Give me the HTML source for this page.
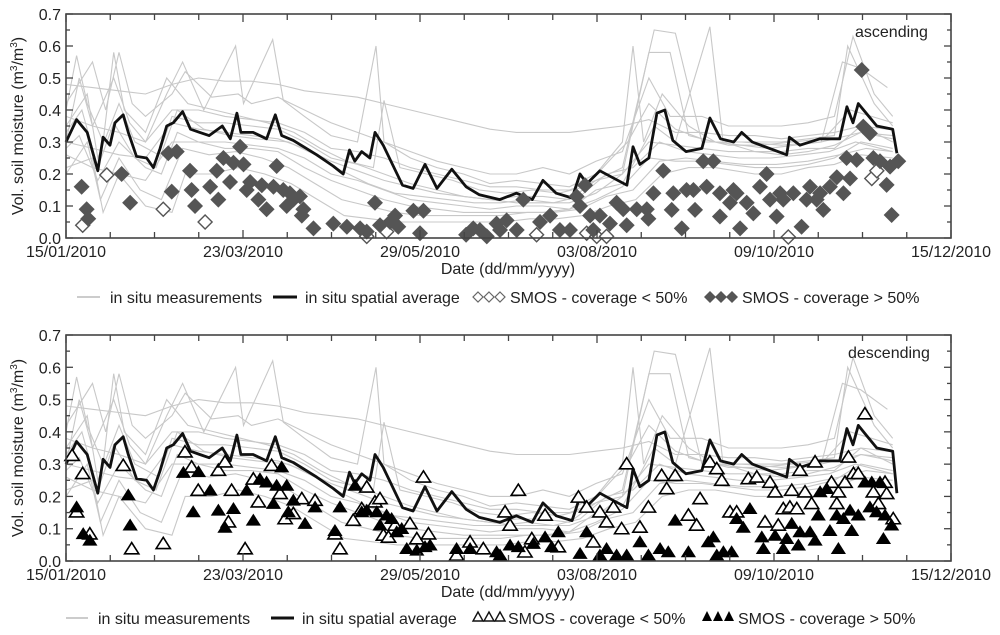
<!DOCTYPE html>
<html><head><meta charset="utf-8"><style>
body{margin:0;background:#fff;}
svg{display:block;font-family:"Liberation Sans",sans-serif;}
</style></head><body>
<svg id="chart" width="1000" height="635" viewBox="0 0 1000 635">
<g id="top"></g>
<g id="bot"></g>
<g font-size="16" fill="#222">
<line x1="77" y1="297" x2="100" y2="297" stroke="#bbb" stroke-width="1.5"/>
<text x="110" y="303">in situ measurements</text>
<line x1="273" y1="297" x2="297" y2="297" stroke="#111" stroke-width="3"/>
<text x="305" y="303">in situ spatial average</text>
<g fill="#fff" stroke="#666" stroke-width="1.2"><path d="M478 292l5 5-5 5-5-5z"/><path d="M489 292l5 5-5 5-5-5z"/><path d="M500 292l5 5-5 5-5-5z"/></g>
<text x="510" y="303">SMOS - coverage &lt; 50%</text>
<g fill="#555"><path d="M710 291l6 6-6 6-6-6z"/><path d="M721 291l6 6-6 6-6-6z"/><path d="M732 291l6 6-6 6-6-6z"/></g>
<text x="742" y="303">SMOS - coverage &gt; 50%</text>
</g>
<g font-size="16" fill="#222">
<line x1="66" y1="618" x2="88" y2="618" stroke="#bbb" stroke-width="1.5"/>
<text x="98" y="624">in situ measurements</text>
<line x1="271" y1="618" x2="294" y2="618" stroke="#111" stroke-width="3"/>
<text x="302" y="624">in situ spatial average</text>
<g fill="#fff" stroke="#111" stroke-width="1.4"><path d="M478 612l5 9h-10z"/><path d="M489 612l5 9h-10z"/><path d="M500 612l5 9h-10z"/></g>
<text x="508" y="624">SMOS - coverage &lt; 50%</text>
<g fill="#000"><path d="M707 611l5 10h-10z"/><path d="M718 611l5 10h-10z"/><path d="M729 611l5 10h-10z"/></g>
<text x="738" y="624">SMOS - coverage &gt; 50%</text>
</g>
</svg>
<script>
const xTickLabels=["15/01/2010","23/03/2010","29/05/2010","03/08/2010","09/10/2010","15/12/2010"];
const yTickLabels=["0.0","0.1","0.2","0.3","0.4","0.5","0.6","0.7"];
const avgDays=[0,4,8,12,14,16.6,18.5,21.6,23.5,26.6,30.4,33,35.5,38,40.5,44,47,50.5,54,59,62,64.5,66,70.6,75.7,79,81.4,85.8,94.6,100.8,104.6,107,109,111.6,114.7,116.6,119.7,127,131,135.5,140,145.6,151,156,163.7,170,176,180,185,191,194,196.6,201.5,206,211.7,214,216.6,220,223,226,229,234,240,243,247,252,255,259,272,273,277,284.5,292,294.7,297,299,302,306,312,313.6];
const avgAsc=[0.30,0.37,0.33,0.21,0.315,0.29,0.36,0.385,0.33,0.255,0.25,0.22,0.28,0.35,0.36,0.395,0.34,0.33,0.32,0.35,0.31,0.39,0.33,0.33,0.31,0.385,0.32,0.305,0.26,0.225,0.2,0.275,0.24,0.27,0.25,0.33,0.29,0.165,0.155,0.23,0.155,0.215,0.16,0.135,0.12,0.14,0.12,0.18,0.14,0.125,0.2,0.17,0.21,0.19,0.165,0.285,0.23,0.25,0.39,0.4,0.305,0.27,0.28,0.375,0.31,0.3,0.33,0.3,0.26,0.315,0.29,0.31,0.31,0.41,0.36,0.42,0.39,0.35,0.34,0.265];
const avgDes=[0.30,0.37,0.33,0.21,0.315,0.29,0.36,0.385,0.33,0.255,0.25,0.22,0.28,0.35,0.36,0.395,0.34,0.33,0.32,0.35,0.31,0.39,0.33,0.33,0.31,0.385,0.32,0.305,0.26,0.225,0.2,0.275,0.24,0.27,0.25,0.33,0.29,0.165,0.155,0.23,0.155,0.215,0.16,0.135,0.12,0.14,0.12,0.18,0.14,0.125,0.2,0.17,0.21,0.19,0.165,0.285,0.23,0.25,0.39,0.4,0.305,0.27,0.28,0.375,0.31,0.3,0.33,0.3,0.26,0.315,0.29,0.31,0.31,0.41,0.36,0.42,0.39,0.35,0.34,0.21];
const insitu1=[[0,.48],[10,.47],[20,.46],[30,.45],[40,.48],[50,.5],[60,.49],[70,.49],[80,.48],[90,.46],[100,.45],[110,.44],[120,.42],[130,.4],[140,.38],[150,.36],[160,.34],[170,.33],[180,.33],[190,.33],[200,.34],[210,.35],[220,.37],[230,.33],[240,.33],[250,.32],[260,.32],[270,.31],[280,.32],[290,.33],[300,.35],[310,.34]];
const insitu2=[[0,.42],[10,.55],[15,.4],[20,.58],[25,.42],[30,.38],[40,.45],[45,.52],[55,.44],[65,.45],[70,.42],[80,.44],[90,.4],[100,.36],[110,.33],[120,.3],[130,.27],[140,.24],[150,.22],[160,.2],[170,.2],[180,.22],[190,.2],[200,.24],[210,.27],[220,.5],[228,.38],[240,.38],[250,.35],[260,.35],[270,.35],[280,.36],[290,.38],[297,.63],[305,.45],[312,.38]];
const insitu3=[[0,.35],[8,.45],[12,.25],[20,.42],[26,.3],[35,.26],[40,.38],[50,.36],[60,.36],[70,.35],[80,.34],[90,.3],[100,.25],[110,.23],[120,.2],[130,.17],[140,.15],[150,.13],[160,.12],[170,.13],[180,.13],[190,.12],[200,.18],[210,.22],[222,.65],[230,.64],[240,.3],[250,.3],[260,.3],[270,.3],[280,.31],[290,.32],[295,.6],[305,.42],[312,.35]];
const insitu4=[[0,.28],[5,.32],[12,.18],[20,.3],[30,.22],[36,.2],[42,.33],[50,.3],[60,.3],[70,.29],[80,.28],[90,.25],[100,.2],[110,.18],[120,.15],[130,.12],[140,.11],[150,.1],[160,.09],[170,.1],[180,.1],[190,.09],[200,.15],[210,.17],[222,.35],[230,.3],[243,.66],[248,.3],[260,.27],[270,.27],[280,.28],[290,.28],[300,.35],[312,.3]];
const insitu5=[[0,.22],[10,.25],[14,.08],[20,.2],[30,.1],[40,.08],[45,.2],[55,.2],[65,.22],[75,.2],[85,.17],[95,.12],[105,.07],[115,.06],[125,.05],[135,.05],[145,.05],[155,.05],[165,.05],[175,.06],[185,.06],[195,.07],[205,.1],[215,.12],[225,.2],[235,.22],[245,.22],[260,.2],[270,.2],[280,.22],[290,.23],[300,.26],[312,.25]];
const insitu6=[[0,.3],[5,.5],[10,.35],[18,.5],[24,.36],[30,.3],[38,.45],[44,.55],[52,.4],[64,.6],[67,.42],[78,.62],[82,.43],[90,.38],[100,.32],[110,.3],[117,.6],[120,.3],[130,.25],[140,.22],[150,.2],[160,.17],[170,.18],[180,.17],[190,.16],[200,.2],[210,.3],[214,.6],[218,.3],[225,.45],[235,.35],[245,.3],[255,.3],[270,.29],[285,.3],[300,.33],[312,.32]];
const insitu7=[[0,.38],[10,.35],[20,.33],[30,.3],[40,.4],[50,.4],[60,.38],[70,.37],[80,.36],[90,.33],[100,.28],[110,.27],[120,.25],[130,.22],[140,.2],[150,.18],[160,.16],[170,.16],[180,.15],[190,.15],[200,.18],[210,.2],[220,.58],[228,.58],[235,.32],[245,.3],[255,.29],[265,.28],[275,.29],[285,.3],[293,.55],[300,.53],[310,.47]];
const insitu8=[[0,.26],[10,.22],[20,.2],[30,.18],[40,.3],[50,.3],[60,.28],[70,.28],[80,.27],[90,.22],[100,.18],[110,.15],[120,.12],[130,.1],[140,.09],[150,.08],[160,.08],[170,.08],[180,.08],[190,.09],[200,.12],[210,.16],[220,.25],[230,.24],[240,.24],[250,.23],[260,.22],[270,.22],[280,.23],[290,.25],[300,.3],[312,.28]];
const insitu9=[[0,.4],[4,.57],[8,.42],[14,.3],[18,.58],[22,.4],[30,.33],[38,.5],[46,.42],[56,.4],[66,.38],[76,.36],[86,.33],[96,.28],[106,.24],[116,.22],[120,.43],[126,.22],[136,.2],[146,.18],[156,.15],[166,.14],[176,.15],[186,.14],[196,.16],[206,.25],[212,.3],[220,.42],[230,.34],[240,.31],[250,.29],[262,.29],[274,.3],[286,.31],[296,.4],[304,.38],[312,.36]];
const insitu10=[[0,.33],[6,.4],[12,.22],[18,.36],[26,.25],[34,.22],[42,.4],[52,.34],[62,.32],[72,.31],[84,.3],[94,.26],[104,.21],[114,.17],[124,.14],[134,.13],[144,.12],[154,.11],[164,.11],[174,.12],[184,.11],[194,.13],[204,.2],[214,.22],[224,.3],[234,.27],[244,.26],[254,.25],[266,.25],[278,.26],[288,.27],[298,.3],[312,.27]];
const insitu11=[[0,.2],[8,.3],[13,.12],[20,.25],[28,.15],[36,.12],[44,.28],[54,.26],[64,.27],[74,.25],[84,.22],[94,.17],[104,.12],[114,.1],[124,.08],[134,.07],[144,.07],[154,.07],[164,.07],[174,.08],[184,.08],[194,.09],[204,.13],[214,.15],[224,.24],[234,.25],[244,.24],[256,.23],[268,.23],[280,.24],[292,.26],[302,.28],[312,.27]];
const insitu12=[[0,.3],[10,.28],[20,.26],[30,.25],[40,.36],[50,.34],[60,.33],[70,.32],[80,.31],[90,.28],[100,.24],[110,.21],[120,.18],[130,.16],[140,.14],[150,.13],[160,.12],[170,.11],[180,.11],[190,.11],[200,.14],[210,.2],[220,.3],[230,.29],[240,.28],[250,.27],[260,.27],[270,.26],[280,.27],[290,.29],[300,.33],[312,.31]];
const ascHigh=[[5.9,.16],[7.8,.09],[8.4,.06],[21,.2],[24.2,.11],[38.6,.265],[41.8,.27],[39.9,.145],[46.8,.21],[47.4,.15],[48.7,.1],[54.4,.16],[56.9,.21],[57.5,.12],[59.4,.25],[61.9,.175],[63.2,.235],[65.7,.285],[67,.23],[69.5,.175],[68.2,.15],[72.6,.12],[75.7,.09],[73.9,.165],[78.3,.16],[79.5,.225],[82,.15],[84.5,.14],[85.8,.12],[83.3,.1],[88.3,.13],[89.6,.09],[89,.07],[93.4,.03],[100.9,.045],[106,.035],[111,.03],[113.5,.02],[116.6,.11],[118.5,.04],[122.3,.05],[124.2,.07],[125.4,.035],[131.1,.085],[134.9,.085],[133.6,.015],[151,.01],[153.7,.03],[156.2,.025],[158.8,.005],[162.5,.045],[163.8,.025],[166.3,.055],[172.6,.12],[170.1,.025],[178.9,.05],[182.7,.07],[186.4,.025],[190.2,.025],[192.7,.13],[194,.1],[195.9,.165],[197.8,.07],[201.5,.07],[199,.025],[205.3,.045],[207.8,.11],[210.3,.09],[211.6,.04],[215.4,.09],[219.2,.09],[219.8,.06],[221.7,.14],[225.4,.21],[228.6,.088],[229.2,.14],[232.4,.03],[234.2,.15],[236.8,.15],[237.4,.088],[240.5,.24],[244.3,.24],[241.8,.16],[246.8,.14],[246.8,.067],[250.6,.11],[251.9,.15],[253.1,.14],[254.4,.03],[256.9,.11],[259.4,.077],[261.9,.16],[264.4,.2],[265.7,.12],[268.2,.067],[269.5,.14],[270.7,.12],[274.5,.14],[277.6,.035],[279.5,.12],[280.8,.16],[283.3,.12],[284.6,.14],[285.8,.088],[288.3,.16],[290.9,.19],[293.4,.14],[295.9,.186],[294.6,.25],[298.4,.244],[300.3,.525],[300.9,.348],[303.4,.327],[304.7,.25],[307.2,.24],[309.7,.166],[311,.223],[314.1,.24],[311.6,.072]];
const ascLow=[[6.3,.04],[15.4,.197],[36.7,.09],[52.5,.05],[113.5,.005],[121,.02],[177.6,.01],[196.5,.015],[200.3,.005],[204,.005],[272.6,.003],[304.1,.186],[306,.21]];
const desHigh=[[4,.163],[6.5,.08],[9,.06],[23.5,.2],[24.2,.107],[44.3,.27],[48,.148],[50,.272],[54.4,.215],[57.5,.153],[60,.1],[63.2,.158],[68.2,.215],[70.7,.122],[73.2,.25],[75.7,.24],[78.3,.174],[79.5,.23],[81.4,.287],[83.3,.23],[83.9,.148],[85.8,.184],[90.2,.112],[94,.163],[103.4,.163],[101.5,.09],[109.1,.23],[111.6,.148],[113.5,.153],[117.3,.148],[118.5,.107],[121,.138],[122.9,.127],[124.8,.086],[126.7,.096],[128.6,.034],[132.4,.029],[135.5,.04],[137.4,.045],[147.4,.034],[152.5,.034],[162.5,.024],[163.8,.014],[167.6,.045],[170.7,.04],[176.4,.05],[180.8,.07],[183.3,.04],[185.8,.086],[194,.019],[196.5,.086],[201.5,.014],[204,.034],[207.8,.014],[211.6,.014],[216.6,.055],[219.8,.014],[224.2,.034],[227.3,.024],[229.9,.122],[234.9,.024],[242.4,.055],[244.3,.07],[245.6,.014],[248.1,.024],[251.2,.024],[253.1,.127],[255.6,.1],[258.1,.158],[262.6,.07],[263.2,.034],[267.6,.075],[270.7,.034],[272,.065],[273.9,.112],[276.4,.045],[277,.086],[280.8,.086],[282.7,.06],[283.9,.138],[284.6,.21],[287.1,.22],[288.3,.09],[290.9,.138],[291.5,.034],[293.4,.127],[295.9,.153],[296.5,.09],[299,.138],[301.5,.24],[304.1,.24],[303.4,.163],[305.9,.148],[307.2,.24],[308.5,.065],[309.1,.138],[311.6,.107]];
const desLow=[[2.3,.323],[6.3,.267],[4,.148],[9,.08],[21.6,.292],[24.8,.034],[36.7,.05],[44.9,.334],[47.4,.287],[49.9,.215],[57.5,.277],[60,.303],[61.3,.117],[62.5,.215],[67.6,.034],[70.7,.25],[72.6,.179],[77.6,.292],[80.8,.205],[82.7,.127],[85.8,.143],[89,.189],[94,.184],[103.4,.034],[101.5,.08],[108.4,.122],[111.6,.158],[113.5,.225],[116.6,.179],[118.5,.189],[119.8,.076],[121.7,.07],[124.2,.107],[129.8,.112],[132.4,.065],[134.9,.256],[136.8,.08],[147.4,.014],[152.5,.055],[157.5,.034],[165.7,.148],[167.6,.107],[170.7,.215],[173.2,.024],[175.8,.065],[180.8,.138],[185.8,.04],[193.4,.194],[196.5,.163],[199,.055],[201.5,.148],[204,.117],[206.6,.163],[209.7,.096],[211.6,.297],[216.6,.101],[219.8,.163],[224.8,.261],[226.7,.22],[229.9,.261],[234.9,.138],[238,.107],[239.3,.189],[243,.303],[245.6,.282],[247.5,.246],[250.6,.148],[253.1,.148],[257.5,.251],[260.7,.256],[263.8,.117],[265.7,.24],[267.6,.21],[268.8,.107],[270.7,.158],[273.2,.163],[273.9,.215],[275.8,.158],[277,.277],[278.9,.21],[281.4,.174],[282.7,.303],[288.9,.24],[291.5,.21],[290.9,.174],[294,.24],[295.3,.318],[297.2,.267],[299,.267],[301.5,.452],[304.7,.21],[306.6,.174],[309.1,.24],[309.7,.205],[312.2,.127]];

const NS='http://www.w3.org/2000/svg';
function mk(tag,parent,attrs){const e=document.createElementNS(NS,tag);for(const k in attrs)e.setAttribute(k,attrs[k]);parent.appendChild(e);return e;}
const X0=66,X1=951,DMAX=334;
function xs(d){return X0+d/DMAX*(X1-X0);}

function panel(g,top,bottom,avg,high,low,shape,label){
  const ys=v=>bottom-v/0.7*(bottom-top);
  const lines=[insitu1,insitu2,insitu3,insitu4,insitu5,insitu6,insitu7,insitu8,insitu9,insitu10,insitu11,insitu12];
  lines.forEach((s,i)=>{
    const p=mk('path',g,{d:'M'+s.map(q=>xs(q[0]).toFixed(1)+','+ys(q[1]).toFixed(1)).join('L'),fill:'none',stroke:'#c8c8c8','stroke-width':1.1});
    
    
  });
  const a=mk('path',g,{d:'M'+avgDays.map((d,i)=>xs(d).toFixed(1)+','+ys(avg[i]).toFixed(1)).join('L'),fill:'none',stroke:'#111','stroke-width':2.8,'stroke-linejoin':'round'});
  
  
  function marker(pt,filled){
    const x=xs(pt[0]),y=ys(pt[1]);let d;
    if(shape==='d'){const r=filled?8:7;d=`M${x} ${y-r}l${r} ${r}-${r} ${r}-${r}-${r}z`;}
    else{const r=filled?8:7.5;d=`M${x} ${y-r}l${r*0.95} ${r*1.5}h${-r*1.9}z`;}
    const m=mk('path',g,{d});
    if(shape==='d'){m.setAttribute('fill',filled?'#555':'#fff');if(!filled){m.setAttribute('stroke','#555');m.setAttribute('stroke-width','1.4');}}
    else{m.setAttribute('fill',filled?'#000':'#fff');if(!filled){m.setAttribute('stroke','#000');m.setAttribute('stroke-width','1.6');}}
    return m;
  }
  low.forEach(p=>{const m=marker(p,false);
    
    });
  high.forEach(p=>{const m=marker(p,true);
    
    });
  const f=mk('rect',g,{x:X0,y:top,width:X1-X0,height:bottom-top,fill:'none',stroke:'#444','stroke-width':1.6});
  
  
  for(let i=0;i<=14;i++){const v=i*0.05,y=ys(v),L=i%2===0?7:4;
    mk('line',g,{x1:X0,x2:X0+L,y1:y,y2:y,stroke:'#444','stroke-width':1.3});
    mk('line',g,{x1:X1,x2:X1-L,y1:y,y2:y,stroke:'#444','stroke-width':1.3});}
  yTickLabels.forEach((t,i)=>{const e=mk('text',g,{x:61,y:ys(i*0.1)+6,'text-anchor':'end','font-size':16,fill:'#222'});e.textContent=t;
    
    });
  for(let i=0;i<=20;i++){const x=X0+i*(X1-X0)/20,L=i%4===0?8:6;
    mk('line',g,{x1:x,x2:x,y1:top,y2:top+L,stroke:'#444','stroke-width':1.3});
    mk('line',g,{x1:x,x2:x,y1:bottom,y2:bottom-L,stroke:'#444','stroke-width':1.3});}
  xTickLabels.forEach((t,i)=>{const e=mk('text',g,{x:X0+i*(X1-X0)/5,y:bottom+19,'text-anchor':'middle','font-size':16,fill:'#222'});e.textContent=t;
    
    });
  const xt=mk('text',g,{x:508,y:bottom+36,'text-anchor':'middle','font-size':16,fill:'#222'});xt.textContent='Date (dd/mm/yyyy)';
  
  
  const cy=(top+bottom)/2;
  const yt=mk('text',g,{x:0,y:0,transform:`translate(23,${cy}) rotate(-90)`,'text-anchor':'middle','font-size':16,fill:'#222'});
  yt.innerHTML='Vol. soil moisture (m<tspan dy="-6" font-size="10">3</tspan><tspan dy="6">/m</tspan><tspan dy="-6" font-size="10">3</tspan><tspan dy="6">)</tspan>';
  
  
  const lb=mk('text',g,{x:label[1],y:top+23,'font-size':16,fill:'#222'});lb.textContent=label[0];
  
  
}
panel(document.getElementById('top'),14,238,avgAsc,ascHigh,ascLow,'d',['ascending',855]);
panel(document.getElementById('bot'),335,561,avgDes,desHigh,desLow,'t',['descending',848]);
</script>
</body></html>
